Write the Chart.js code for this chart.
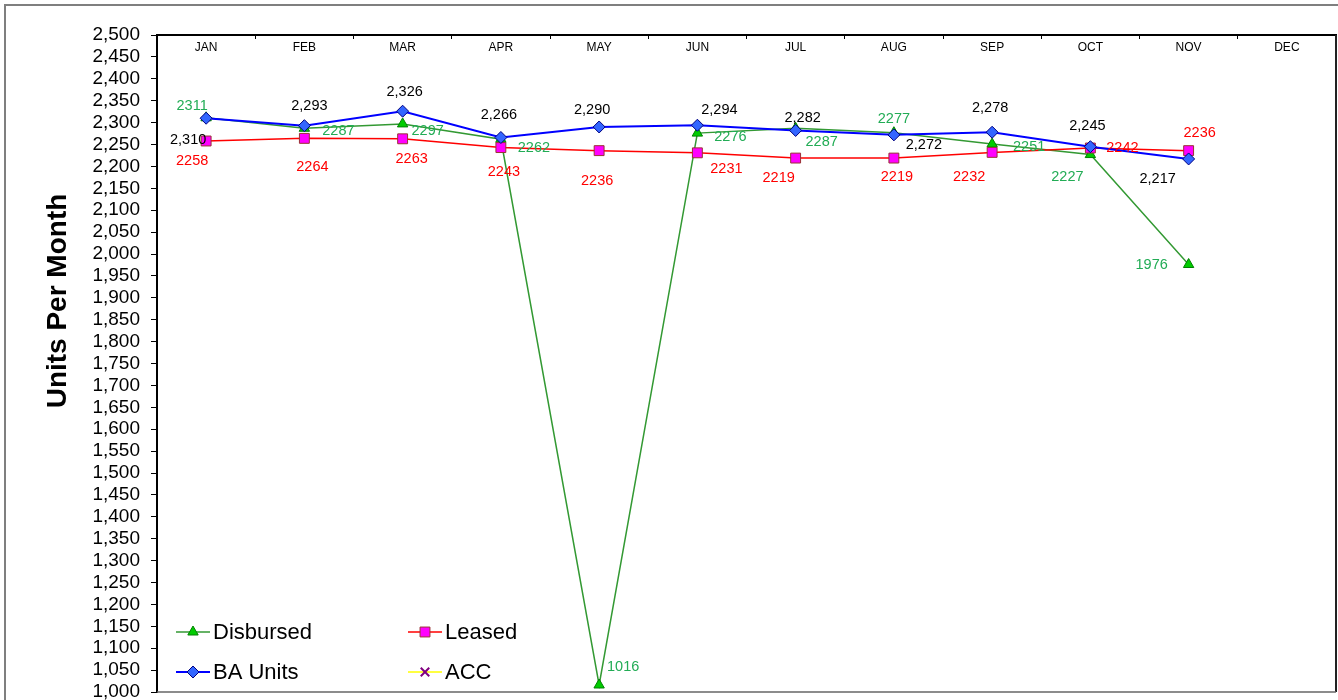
<!DOCTYPE html>
<html>
<head>
<meta charset="utf-8">
<title>Units Per Month</title>
<script src="https://cdn.jsdelivr.net/npm/chart.js@4.4.0/dist/chart.umd.min.js"></script>
<style>
    html, body { margin: 0; padding: 0; background: #fff; }
    #wrap { width: 1338px; height: 700px; position: relative; }
</style>
</head>
<body>
<div id="wrap"><canvas id="unitsChart"></canvas></div>
<script>
// Chart data
const months = ['JAN', 'FEB', 'MAR', 'APR', 'MAY', 'JUN', 'JUL', 'AUG', 'SEP', 'OCT', 'NOV', 'DEC'];
const disbursed = [2311, 2287, 2297, 2262, 1016, 2276, 2287, 2277, 2251, 2227, 1976, null];
const leased = [2258, 2264, 2263, 2243, 2236, 2231, 2219, 2219, 2232, 2242, 2236, null];
const baUnits = [2310, 2293, 2326, 2266, 2290, 2294, 2282, 2272, 2278, 2245, 2217, null];
const acc = [null, null, null, null, null, null, null, null, null, null, null, null];
const yMin = 1000;
const yMax = 2500;
const yStep = 50;

// Where each value label sits relative to its point (dx, dy in px)
const disbursedLabelPos = [[-14, -12], [34, 3], [25, 7], [33, 9], [24, -18], [33, 4], [26, 14], [0, -14], [37, 3], [-23, 22], [-37, 0], [0, 0]];
const leasedLabelPos = [[-14, 20], [8, 29], [9, 20], [3, 24], [-2, 30], [29, 16], [-17, 20], [3, 19], [-23, 25], [32, 0], [11, -18], [0, 0]];
const baLabelPos = [[-18, 22], [5, -20], [2, -19], [-2, -22], [-7, -17], [22, -15], [7, -12], [30, 10], [-2, -24], [-3, -21], [-31, 20], [0, 0]];

const FONT = '"Liberation Sans", Arial, Helvetica, sans-serif';
Chart.defaults.font.family = FONT;
Chart.defaults.color = '#000';

/**
 * Value labels next to each point
 */
const pointLabels = {
    id: 'pointLabels',
    afterDatasetsDraw(chart) {
        const ctx = chart.ctx;
        ctx.save();
        ctx.font = '14.5px ' + FONT;
        ctx.textAlign = 'center';
        ctx.textBaseline = 'middle';
        chart.data.datasets.forEach((ds, i) => {
            if (!ds.labelPos) return;
            const meta = chart.getDatasetMeta(i);
            meta.data.forEach((pt, j) => {
                const v = ds.data[j];
                if (v === null || v === undefined) return;
                ctx.fillStyle = ds.labelColor;
                const txt = ds.useComma ? v.toLocaleString('en-US') : String(v);
                ctx.fillText(txt, pt.x + ds.labelPos[j][0], pt.y + ds.labelPos[j][1]);
            });
        });
        ctx.restore();
    }
};

/**
 * Legend inside the plot, bottom left, two columns
 */
const insideLegend = {
    id: 'insideLegend',
    afterDraw(chart) {
        const ctx = chart.ctx;
        const area = chart.chartArea;
        ctx.save();
        chart.data.datasets.forEach((ds, i) => {
            const col = i % 2;
            const row = Math.floor(i / 2);
            const x = area.left + 19 + col * 232;
            const y = area.bottom - 60 + row * 40;

            ctx.strokeStyle = ds.borderColor;
            ctx.lineWidth = ds.borderWidth;
            ctx.beginPath();
            ctx.moveTo(x, y);
            ctx.lineTo(x + 34, y);
            ctx.stroke();

            ctx.fillStyle = ds.pointBackgroundColor;
            ctx.strokeStyle = ds.pointBorderColor;
            ctx.lineWidth = ds.pointBorderWidth;
            Chart.helpers.drawPoint(ctx, {
                pointStyle: ds.pointStyle,
                radius: ds.pointRadius,
                rotation: 0,
                borderWidth: ds.pointBorderWidth
            }, x + 17, y);

            ctx.fillStyle = '#000';
            ctx.font = '22px ' + FONT;
            ctx.textAlign = 'left';
            ctx.textBaseline = 'middle';
            ctx.fillText(ds.label, x + 37, y + 1);
        });
        ctx.restore();
    }
};

/**
 * Frame lines and the rotated y axis title
 */
const frame = {
    id: 'frame',
    afterDraw(chart) {
        const ctx = chart.ctx;
        const area = chart.chartArea;
        ctx.save();
        // outer border of the chart object
        ctx.strokeStyle = '#7f7f7f';
        ctx.lineWidth = 2;
        ctx.beginPath();
        ctx.moveTo(5, chart.height);
        ctx.lineTo(5, 5);
        ctx.lineTo(chart.width, 5);
        ctx.stroke();

        // plot area right and bottom edges
        ctx.strokeStyle = '#222';
        ctx.lineWidth = 2;
        ctx.beginPath();
        ctx.moveTo(area.right, area.top);
        ctx.lineTo(area.right, area.bottom);
        ctx.stroke();
        ctx.strokeStyle = '#666';
        ctx.lineWidth = 1.5;
        ctx.beginPath();
        ctx.moveTo(area.left, area.bottom);
        ctx.lineTo(area.right, area.bottom);
        ctx.stroke();

        // y axis title
        ctx.translate(66, 301);
        ctx.rotate(-Math.PI / 2);
        ctx.fillStyle = '#000';
        ctx.font = 'bold 28px ' + FONT;
        ctx.textAlign = 'center';
        ctx.textBaseline = 'alphabetic';
        ctx.fillText('Units Per Month', 0, 0);
        ctx.restore();
    }
};

document.addEventListener('DOMContentLoaded', function() {
    const el = document.getElementById('unitsChart');

    new Chart(el, {
        type: 'line',
        data: {
            labels: months,
            datasets: [{
                label: 'Disbursed',
                data: disbursed,
                borderColor: '#339933',
                borderWidth: 1.5,
                pointStyle: 'triangle',
                pointRadius: 6,
                pointBackgroundColor: '#00cc00',
                pointBorderColor: '#008000',
                pointBorderWidth: 1,
                labelColor: '#22ac55',
                labelPos: disbursedLabelPos,
                useComma: false,
                order: 2
            }, {
                label: 'Leased',
                data: leased,
                borderColor: '#ff0000',
                borderWidth: 1.5,
                pointStyle: 'rect',
                pointRadius: 7,
                pointBackgroundColor: '#ff00ff',
                pointBorderColor: '#993333',
                pointBorderWidth: 1,
                labelColor: '#ff0000',
                labelPos: leasedLabelPos,
                useComma: false,
                order: 1
            }, {
                label: 'BA Units',
                data: baUnits,
                borderColor: '#0000ff',
                borderWidth: 2,
                pointStyle: 'rectRot',
                pointRadius: 6,
                pointBackgroundColor: '#3366ff',
                pointBorderColor: '#000080',
                pointBorderWidth: 1,
                labelColor: '#000',
                labelPos: baLabelPos,
                useComma: true,
                order: 0
            }, {
                label: 'ACC',
                data: acc,
                borderColor: '#ffff00',
                borderWidth: 1.5,
                pointStyle: 'crossRot',
                pointRadius: 6,
                pointBackgroundColor: '#800080',
                pointBorderColor: '#800080',
                pointBorderWidth: 2,
                order: 3
            }]
        },
        options: {
            responsive: true,
            maintainAspectRatio: false,
            animation: false,
            layout: {
                autoPadding: false,
                padding: { left: 0, top: 0, right: 2, bottom: 8 }
            },
            plugins: {
                legend: { display: false },
                tooltip: { enabled: false }
            },
            elements: {
                line: { tension: 0 }
            },
            scales: {
                x: {
                    position: 'top',
                    offset: true,
                    border: { color: '#000', width: 2 },
                    grid: {
                        offset: true,
                        drawOnChartArea: false,
                        tickLength: -4,
                        color: '#000'
                    },
                    ticks: {
                        font: { size: 12 },
                        color: '#000',
                        mirror: true,
                        padding: 5,
                        maxRotation: 0,
                        autoSkip: false
                    },
                    afterFit: function(scale) {
                        scale.height = 35;
                        scale.paddingLeft = 0;
                        scale.paddingRight = 0;
                    }
                },
                y: {
                    min: yMin,
                    max: yMax,
                    border: { color: '#000', width: 2 },
                    grid: {
                        drawOnChartArea: false,
                        tickLength: 6,
                        color: '#000'
                    },
                    ticks: {
                        stepSize: yStep,
                        font: { size: 19 },
                        color: '#000',
                        padding: 11,
                        autoSkip: false,
                        callback: function(value) {
                            return Number(value).toLocaleString('en-US');
                        }
                    },
                    afterFit: function(scale) {
                        scale.width = 157;
                        scale.paddingTop = 0;
                        scale.paddingBottom = 0;
                    }
                }
            }
        },
        plugins: [pointLabels, insideLegend, frame]
    });
});
</script>
</body>
</html>
